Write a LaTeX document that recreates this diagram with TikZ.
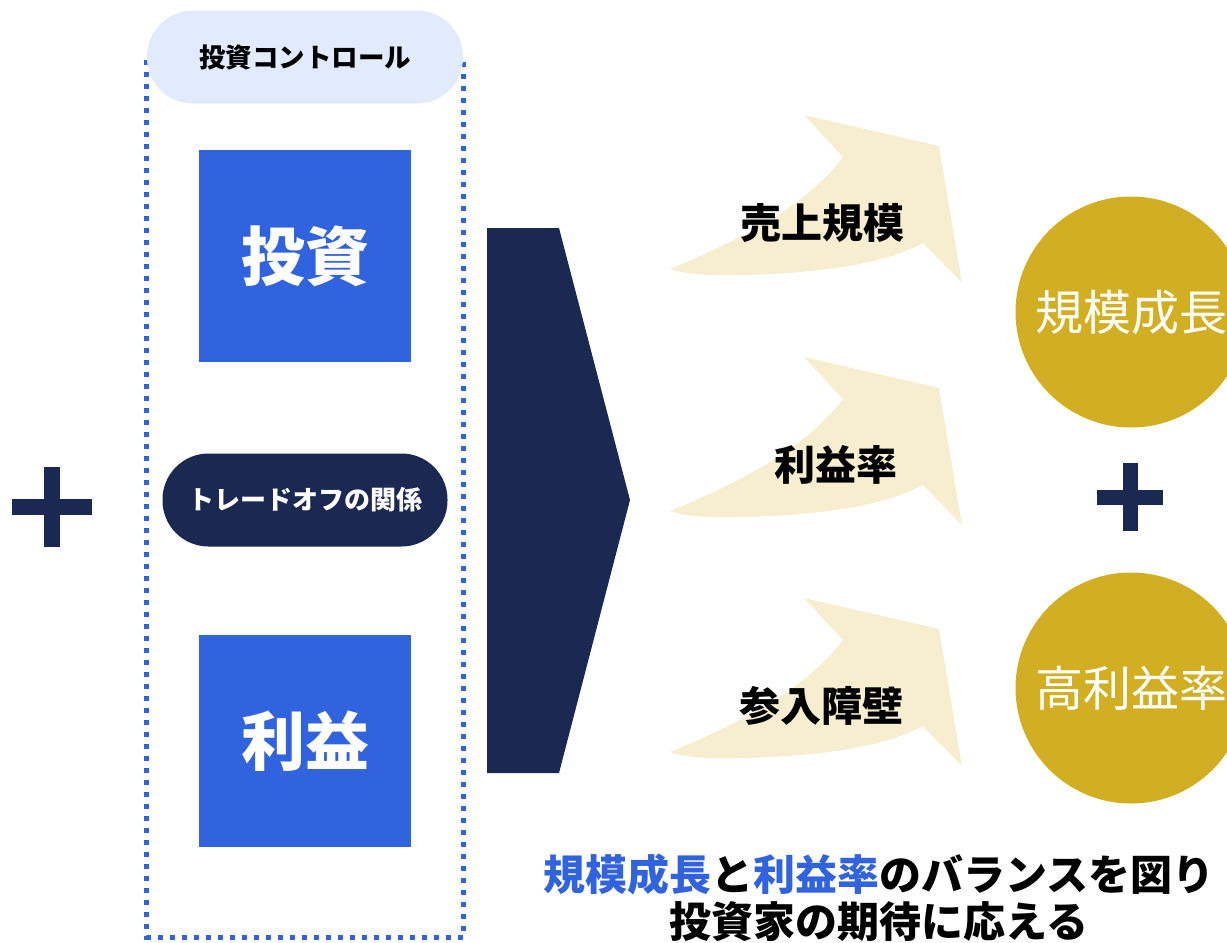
\documentclass[tikz,border=0pt]{standalone}
\usepackage{fontspec}
\setmainfont{Noto Sans CJK JP}
\usetikzlibrary{calc}

\definecolor{navy}{HTML}{1B2852}
\definecolor{boxblue}{HTML}{3163DE}
\definecolor{paleblue}{HTML}{E1EBFD}
\definecolor{cream}{HTML}{F7EED0}
\definecolor{gold}{HTML}{D2AF22}

\tikzset{
	keybox/.style={fill=boxblue, inner sep=0pt, minimum width=212pt, minimum height=212pt, text=white, font=\bfseries\fontsize{64}{70}\selectfont},
	pill/.style={rounded corners=46pt, inner sep=0pt, minimum width=#1, minimum height=93pt},
	goal/.style={circle, fill=gold, inner sep=0pt, minimum size=231pt, text=white, font=\fontsize{48}{54}\selectfont},
	factor/.style={font=\bfseries\fontsize{41}{48}\selectfont},
	plusbar/.style={fill=navy}
}

\begin{document}
\begin{tikzpicture}[x=1pt, y=-1pt]
	\useasboundingbox (0,0) rectangle (1227,943);
	
	%plus left
	\fill[plusbar] (44,467) rectangle (60,547);
	\fill[plusbar] (12,499) rectangle (92,515);
	
	%control frame
	\draw[boxblue, line width=5pt, dash pattern=on 5pt off 7pt] (146.5,60) rectangle (463,937);
	\node[pill=316pt, fill=paleblue, font=\bfseries\fontsize{26.5}{30}\selectfont] (ctrl) at (305,57) {投資コントロール};
	\node[keybox] (invest) at (305,256) {投資};
	\node[pill=285pt, fill=navy, text=white, font=\bfseries\fontsize{26}{30}\selectfont] (tradeoff) at (305,500) {トレードオフの関係};
	\node[keybox] (profit) at (305,741) {利益};
	
	%chevron
	\fill[navy] (487,228) -- (559,228) -- (630,500) -- (559,773) -- (487,773) -- cycle;
	
	%curved arrows
	\foreach \dy/\name/\lx/\lbl in {0/sales/822/売上規模, 242/margin/836/利益率, 483/barrier/821/参入障壁}{
		\begin{scope}[shift={(0,\dy)}]
			\fill[cream] (670,269) .. controls (760,232) and (812,198) .. (843,157) -- (804,115) -- (939,146) -- (962,283) -- (923,243)
				.. controls (880,266) and (820,270) .. (790,273) .. controls (720,277) and (690,276) .. cycle;
			\node[factor] (lbl\name) at (\lx,223) {\lbl};
		\end{scope}
	}
	
	%goals
	\node[goal] (growth) at (1131,312) {規模成長};
	\node[goal] (highmargin) at (1131,688) {高利益率};
	\fill[plusbar] (1123,463) rectangle (1138,531);
	\fill[plusbar] (1097,490) rectangle (1163,505);
	
	%message
	\node[align=center, font=\bfseries\fontsize{42}{47}\selectfont] (message) at (879,898)
		{\textcolor{boxblue}{規模成長}と\textcolor{boxblue}{利益率}のバランスを図り\\投資家の期待に応える};
\end{tikzpicture}
\end{document}
